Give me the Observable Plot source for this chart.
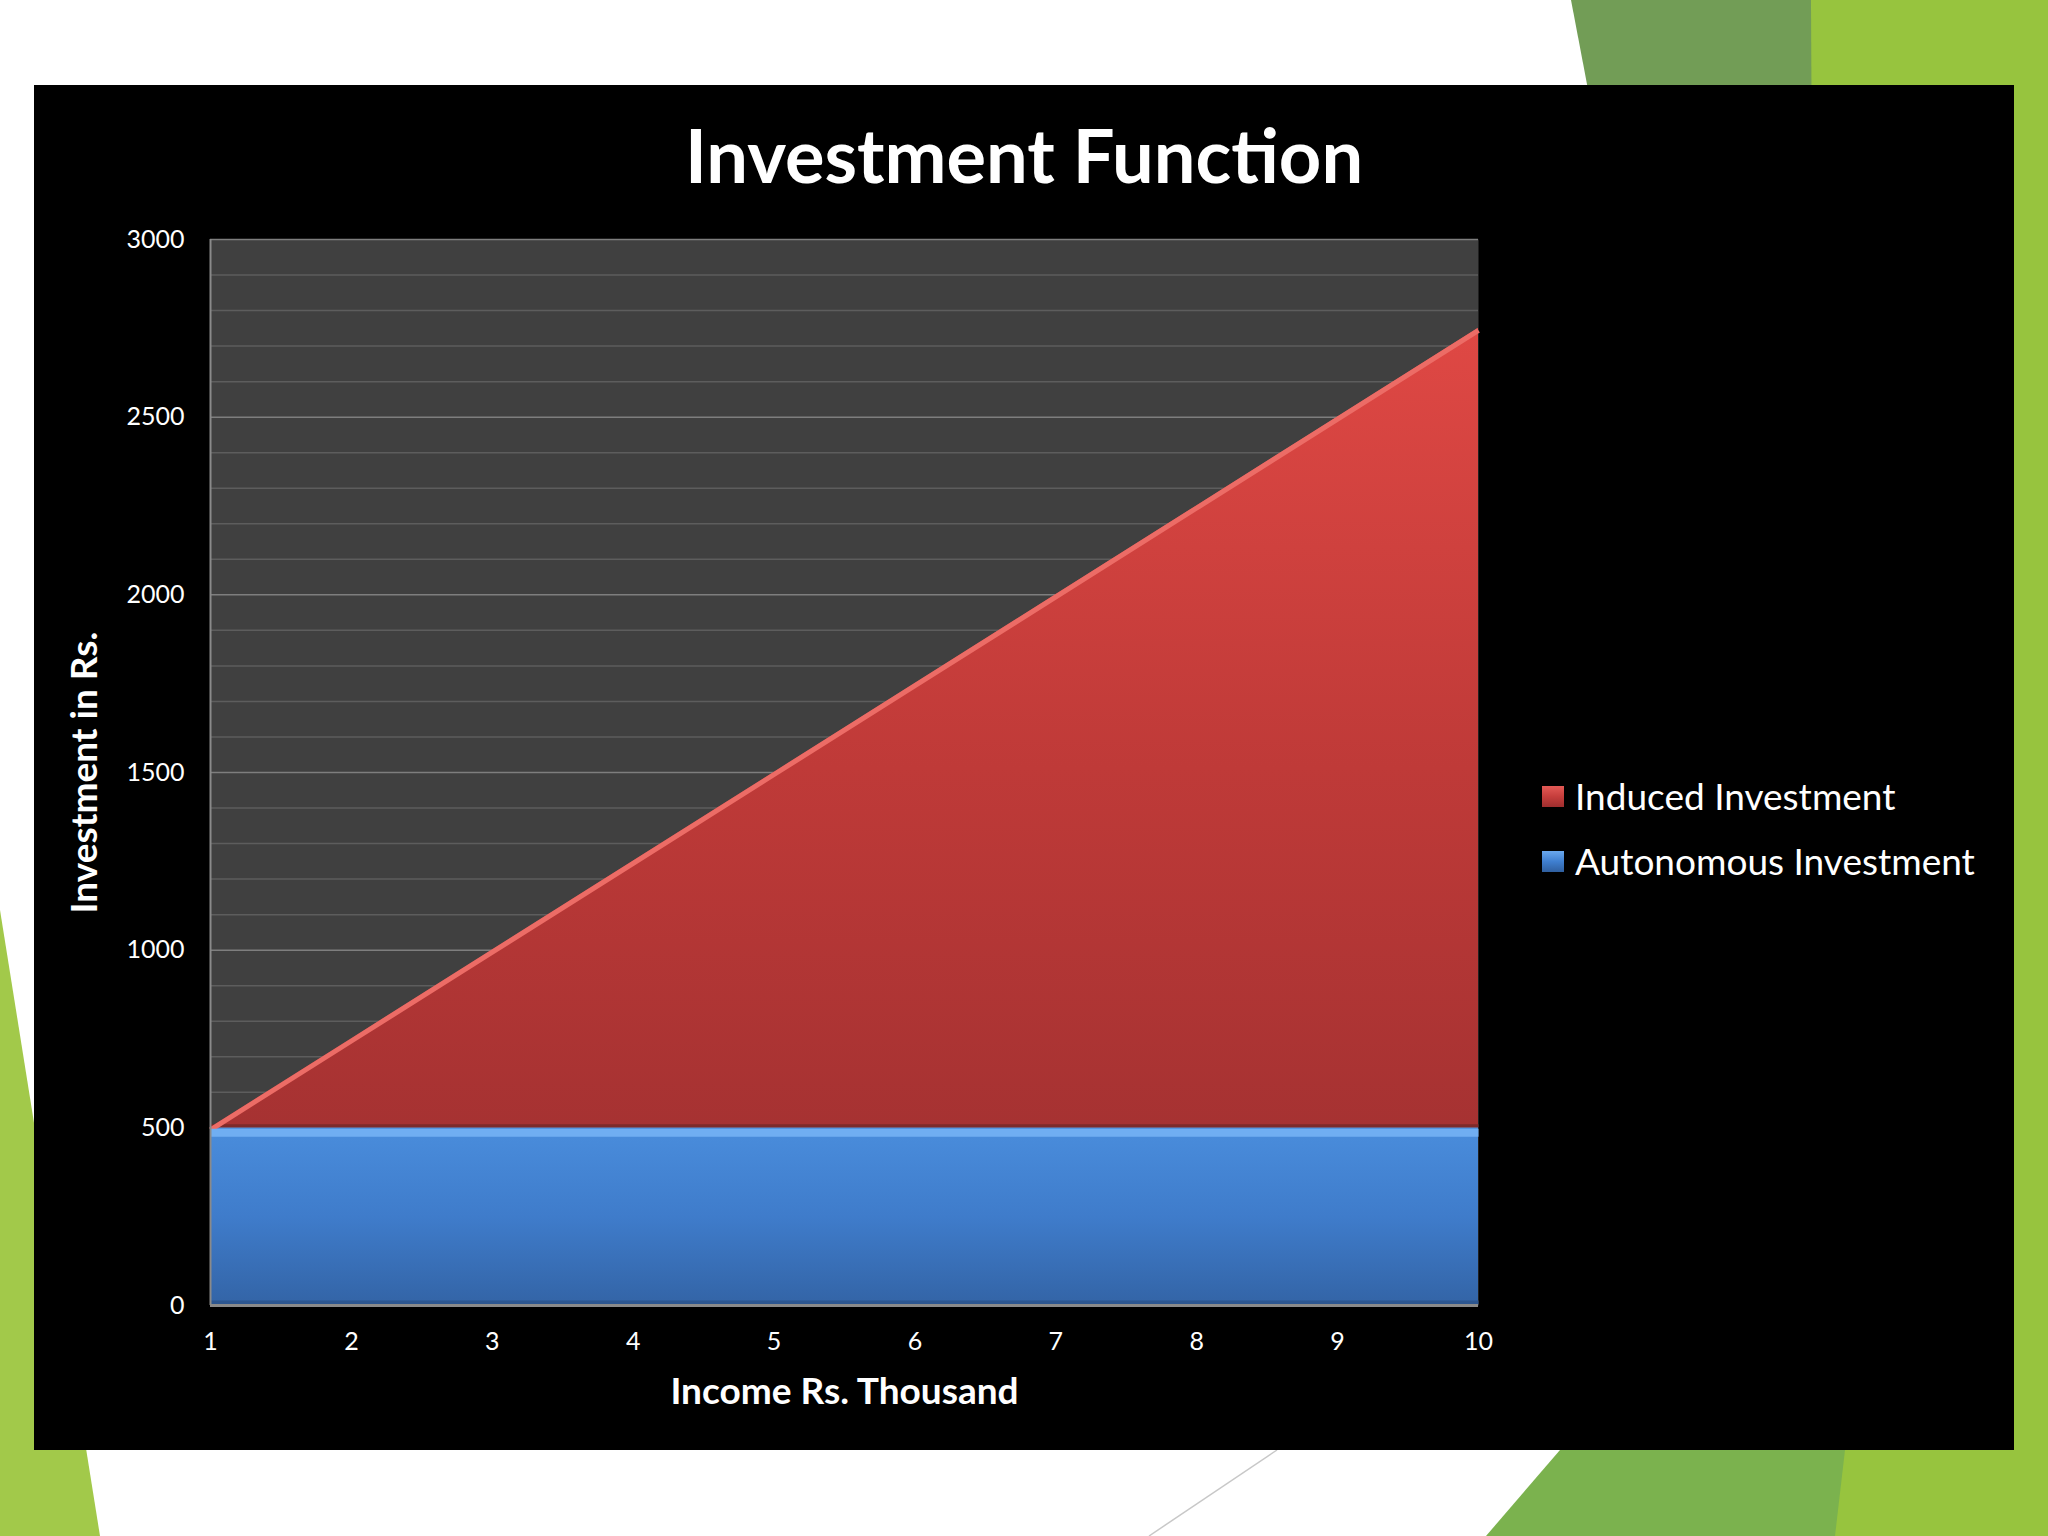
<!DOCTYPE html>
<html>
<head>
<meta charset="utf-8">
<script src="https://cdn.jsdelivr.net/npm/d3@7"></script>
<script src="https://cdn.jsdelivr.net/npm/@observablehq/plot@0.6"></script>
<style>
  html, body { margin: 0; padding: 0; background: #fff; }
  #page { position: relative; width: 2048px; height: 1536px; overflow: hidden; background: #fff; font-family: Lato, "Open Sans", sans-serif; }
  #deco { position: absolute; left: 0; top: 0; }
  #panel { position: absolute; left: 34px; top: 85px; width: 1980px; height: 1365px; background: #000; }
  #title { position: absolute; left: 0; top: 33px; width: 1980px; text-align: center; color: #fff; font-weight: 700; font-size: 74px; line-height: 1; }
  #chart { position: absolute; left: 0; top: 115px; }
  #legend { position: absolute; left: 1508px; top: 692px; color: #fff; font-size: 37px; }
  .item { position: relative; height: 65px; }
  .sw { position: absolute; left: 0; top: 9px; width: 22px; height: 21px; }
  .lab { position: absolute; left: 33px; top: 0; line-height: 38px; white-space: nowrap; }
</style>
</head>
<body>
<div id="page">
  <svg id="deco" width="2048" height="1536">
    <polygon points="1571,0 1811,0 1819,100 1590,100" fill="#729d56"/>
    <polygon points="1811,0 2048,0 2048,1536 1819,1536" fill="#97c43e"/>
    <polygon points="1560,1450 1845,1450 1835,1536 1486,1536" fill="#7bb24e"/>
    <polygon points="0,910 100,1536 0,1536" fill="#a2c94a"/>
    <line x1="1277" y1="1450" x2="1149" y2="1536" stroke="#c8c8c8" stroke-width="1.5"/>
  </svg>
  <div id="panel">
    <div id="title">Investment Function</div>
    <div id="chart"></div>
    <div id="legend"></div>
  </div>
</div>
<script>
// ---- data ----
const income = [1, 2, 3, 4, 5, 6, 7, 8, 9, 10];            // Income Rs. Thousand
const autonomous = [500, 500, 500, 500, 500, 500, 500, 500, 500, 500];
const induced = [0, 250, 500, 750, 1000, 1250, 1500, 1750, 2000, 2250];
const seriesNames = ["Induced Investment", "Autonomous Investment"];
const yTicks = [0, 500, 1000, 1500, 2000, 2500, 3000];
const yMinor = [100, 200, 300, 400, 600, 700, 800, 900, 1100, 1200, 1300, 1400, 1600, 1700, 1800, 1900, 2100, 2200, 2300, 2400, 2600, 2700, 2800, 2900];
const xTicks = [1, 2, 3, 4, 5, 6, 7, 8, 9, 10];
const xLabel = "Income Rs. Thousand";
const yLabel = "Investment in Rs.";

const rows = income.map((x, i) => ({x, auto: autonomous[i], total: autonomous[i] + induced[i]}));

const defs = () => {
  const g = d3.create("svg:defs");
  const red = g.append("linearGradient").attr("id", "redGrad").attr("x1", 0).attr("x2", 0).attr("y1", 0).attr("y2", 1);
  red.append("stop").attr("offset", "0%").attr("stop-color", "#df4844");
  red.append("stop").attr("offset", "55%").attr("stop-color", "#bf3a38");
  red.append("stop").attr("offset", "100%").attr("stop-color", "#a63232");
  const blue = g.append("linearGradient").attr("id", "blueGrad").attr("x1", 0).attr("x2", 0).attr("y1", 0).attr("y2", 1);
  blue.append("stop").attr("offset", "0%").attr("stop-color", "#4a8ddc");
  blue.append("stop").attr("offset", "50%").attr("stop-color", "#3f7ccb");
  blue.append("stop").attr("offset", "100%").attr("stop-color", "#3364a6");
  return g.node();
};

const chart = Plot.plot({
  width: 1560,
  height: 1230,
  marginLeft: 176,
  marginRight: 116,
  marginTop: 39,
  marginBottom: 125,
  style: {background: "transparent", color: "#fff", fontFamily: "Lato, 'Open Sans', sans-serif", fontSize: "25px"},
  x: {domain: [1, 10]},
  y: {domain: [0, 3000]},
  marks: [
    defs,
    Plot.frame({fill: "#404040", stroke: null}),
    Plot.ruleY(yMinor, {stroke: "#5d5d5d", strokeWidth: 1.5}),
    Plot.ruleY(yTicks, {stroke: "#7e7e7e", strokeWidth: 1.5}),
    Plot.areaY(rows, {x: "x", y1: 0, y2: "auto", fill: "url(#blueGrad)"}),
    Plot.areaY(rows, {x: "x", y1: "auto", y2: "total", fill: "url(#redGrad)"}),
    Plot.lineY(rows, {x: "x", y: "auto", stroke: "#7d2a2a", strokeWidth: 3, dy: -2, strokeLinecap: "butt"}),
    Plot.lineY(rows, {x: "x", y: "total", stroke: "#ec6c66", strokeWidth: 5, dy: 2, strokeLinecap: "butt"}),
    Plot.lineY(rows, {x: "x", y: "auto", stroke: "#70aef2", strokeWidth: 8, dy: 5, strokeLinecap: "butt"}),
    Plot.lineY(rows, {x: "x", y: () => 0, stroke: "#2c5690", strokeWidth: 4, dy: -3, strokeLinecap: "butt"}),
    Plot.ruleX([1], {stroke: "#8a8a8a", strokeWidth: 2}),
    Plot.ruleY([0], {stroke: "#8a8a8a", strokeWidth: 3}),
    Plot.axisY(yTicks, {tickSize: 0, tickPadding: 26, label: null, fontSize: 25, tickFormat: d => String(d)}),
    Plot.axisX(xTicks, {tickSize: 0, tickPadding: 27, label: null, fontSize: 25, tickFormat: d => String(d)}),
    Plot.text([yLabel], {frameAnchor: "left", rotate: -90, dx: -125, text: d => d, fill: "#fff", fontWeight: 700, fontSize: 37, textAnchor: "middle", lineAnchor: "middle"}),
    Plot.text([xLabel], {frameAnchor: "bottom", dx: 0, dy: 87, text: d => d, fill: "#fff", fontWeight: 700, fontSize: 37, textAnchor: "middle", lineAnchor: "middle"})
  ]
});
document.getElementById("chart").append(chart);

const swatchCss = {
  "Induced Investment": "linear-gradient(180deg, #e35a56 0%, #c63e3c 50%, #9e2e2e 100%)",
  "Autonomous Investment": "linear-gradient(180deg, #6aa8ee 0%, #3f7fd0 50%, #2f5f9f 100%)"
};
const legend = document.getElementById("legend");
seriesNames.forEach(name => {
  const it = document.createElement("div");
  it.className = "item";
  const sw = document.createElement("div");
  sw.className = "sw";
  sw.style.background = swatchCss[name];
  const lab = document.createElement("div");
  lab.className = "lab";
  lab.textContent = name;
  it.append(sw, lab);
  legend.append(it);
});
</script>
</body>
</html>
